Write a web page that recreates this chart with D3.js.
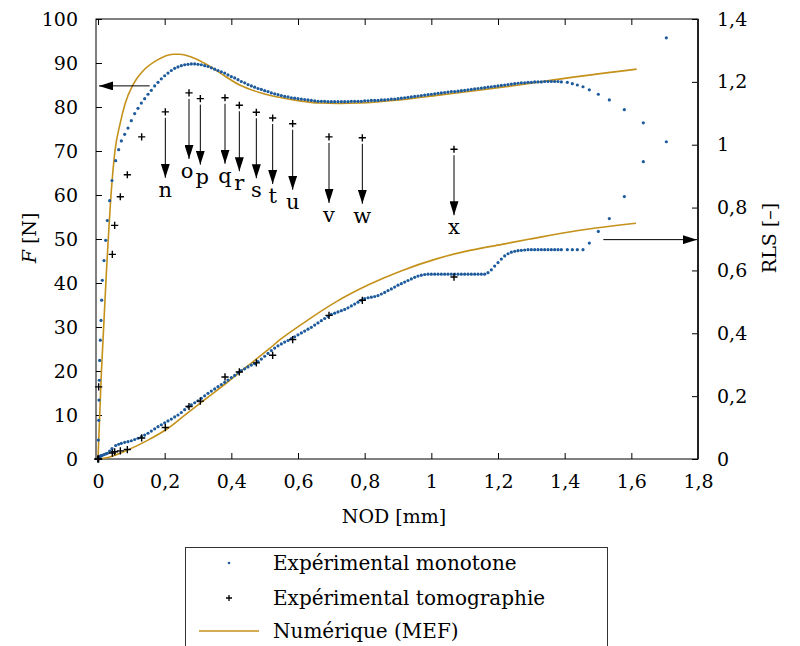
<!DOCTYPE html>
<html><head><meta charset="utf-8">
<script src="https://cdn.jsdelivr.net/npm/d3@7"></script>
<style>body{margin:0;background:#fff}</style>
</head><body>
<script>
// ---------------- DATA ----------------
const xTicks = [0,0.2,0.4,0.6,0.8,1,1.2,1.4,1.6,1.8];
const xTickLabels = ['0','0,2','0,4','0,6','0,8','1','1,2','1,4','1,6','1,8'];
const fTicks = [0,10,20,30,40,50,60,70,80,90,100];
const fTickLabels = ['0','10','20','30','40','50','60','70','80','90','100'];
const rlsTicks = [0,0.2,0.4,0.6,0.8,1,1.2,1.4];
const rlsTickLabels = ['0','0,2','0,4','0,6','0,8','1','1,2','1,4'];

// Expérimental monotone : NOD [mm], F [N], RLS [-]
const monoNOD = [0,0.001,0.002,0.003,0.004,0.005,0.007,0.009,0.011,0.013,0.018,0.023,0.028,0.035,0.042,0.053,0.062,0.070,
 0.08,0.09,
 0.10,0.11,0.12,0.13,0.14,0.15,0.16,0.17,0.18,0.19,
 0.20,0.21,0.22,0.23,0.24,0.25,0.26,0.27,0.28,0.29,
 0.30,0.31,0.32,0.33,0.34,0.35,0.36,0.37,0.38,0.39,
 0.40,0.41,0.42,0.43,0.44,0.45,0.46,0.47,0.48,0.49,
 0.50,0.51,0.52,0.53,0.54,0.55,0.56,0.57,0.58,0.59,
 0.60,0.61,0.62,0.63,0.64,0.65,0.66,0.67,0.68,0.69,
 0.70,0.71,0.72,0.73,0.74,0.75,0.76,0.77,0.78,0.79,
 0.80,0.81,0.82,0.83,0.84,0.85,0.86,0.87,0.88,0.89,
 0.90,0.91,0.92,0.93,0.94,0.95,0.96,0.97,0.98,0.99,
 1.00,1.01,1.02,1.03,1.04,1.05,1.06,1.07,1.08,1.09,
 1.10,1.11,1.12,1.13,1.14,1.15,1.16,1.17,1.18,1.19,
 1.20,1.21,1.22,1.23,1.24,1.25,1.26,1.27,1.28,1.29,
 1.30,1.31,1.32,1.33,1.34,1.35,1.36,1.37,1.38,1.39,
 1.408,1.423,1.438,1.455,1.474,1.501,1.534,1.579,1.636,1.705];
const monoF = [0,4.3,8.8,13.4,17.9,22.4,27.0,31.5,36.1,40.6,45.1,49.7,54.2,58.7,63.3,67.8,70.3,72.3,
 73.8,75.2,
 76.9,78.5,79.7,80.9,81.9,82.9,83.8,84.8,85.6,86.4,
 87.1,87.7,88.3,88.8,89.1,89.4,89.6,89.7,89.8,89.8,
 89.7,89.6,89.4,89.2,88.9,88.6,88.3,88.0,87.7,87.3,
 86.9,86.6,86.2,85.8,85.5,85.1,84.8,84.5,84.2,84.0,
 83.7,83.5,83.2,83.0,82.8,82.6,82.4,82.3,82.1,82.0,
 81.9,81.8,81.7,81.6,81.5,81.4,81.3,81.3,81.3,81.2,
 81.2,81.2,81.2,81.2,81.2,81.2,81.3,81.3,81.3,81.3,
 81.4,81.4,81.5,81.5,81.5,81.6,81.6,81.7,81.8,81.8,
 81.9,82.0,82.1,82.2,82.3,82.4,82.5,82.6,82.7,82.8,
 82.9,83.0,83.1,83.2,83.3,83.4,83.5,83.5,83.6,83.7,
 83.8,83.9,84.0,84.1,84.2,84.3,84.4,84.5,84.6,84.7,
 84.8,84.9,85.0,85.1,85.2,85.3,85.4,85.5,85.5,85.6,
 85.6,85.7,85.7,85.7,85.8,85.8,85.8,85.8,85.8,85.7,
 85.6,85.3,85.0,84.6,83.9,82.9,81.6,79.4,76.4,72.1];
const monoRLS = [0,0.002,0.004,0.005,0.006,0.007,0.009,0.010,0.011,0.012,0.014,0.016,0.018,0.025,0.033,0.043,0.047,0.050,
 0.053,0.055,
 0.058,0.062,0.066,0.071,0.076,0.082,0.089,0.096,0.103,0.109,
 0.115,0.121,0.127,0.134,0.140,0.148,0.157,0.166,0.172,0.179,
 0.185,0.193,0.201,0.209,0.216,0.223,0.230,0.237,0.244,0.251,
 0.259,0.266,0.274,0.281,0.287,0.293,0.299,0.303,0.310,0.318,
 0.327,0.336,0.345,0.353,0.360,0.366,0.372,0.377,0.383,0.389,
 0.395,0.401,0.407,0.413,0.419,0.426,0.433,0.440,0.447,0.454,
 0.460,0.464,0.468,0.472,0.476,0.481,0.487,0.493,0.499,0.505,
 0.510,0.513,0.515,0.517,0.520,0.525,0.530,0.536,0.541,0.547,
 0.553,0.558,0.563,0.568,0.573,0.578,0.582,0.585,0.587,0.588,
 0.588,0.588,0.588,0.588,0.588,0.588,0.588,0.588,0.588,0.588,
 0.588,0.588,0.588,0.588,0.588,0.588,0.588,0.593,0.602,0.614,
 0.625,0.636,0.646,0.653,0.658,0.661,0.663,0.664,0.665,0.666,
 0.666,0.666,0.666,0.666,0.666,0.666,0.666,0.666,0.666,0.666,
 0.666,0.666,0.666,0.666,0.687,0.724,0.765,0.835,0.946,1.34];

// Expérimental tomographie
const tomoNOD = [0,0.002,0.043,0.050,0.067,0.088,0.131,0.202,0.273,0.307,0.381,0.424,0.475,0.524,0.584,0.693,0.793,1.068];
const tomoF   = [0,16.4,46.5,53.1,59.6,64.6,73.2,78.9,83.2,81.9,82.1,80.4,78.8,77.5,76.2,73.2,73.0,70.4];
const tomoRLS = [0,0,0.019,0.023,0.026,0.030,0.067,0.100,0.167,0.184,0.261,0.277,0.306,0.330,0.380,0.457,0.505,0.579];
const tomoLabels = ['','','','','','','','n','o','p','q','r','s','t','u','v','w','x'];

// Numérique (MEF)
const mefNOD_F = [0,0.010,0.025,0.040,0.051,0.066,0.081,0.106,0.135,0.176,0.225,0.245,0.285,0.325,0.365,0.425,0.484,0.544,0.604,0.664,0.724,0.783,0.903,1.023,1.142,1.262,1.362,1.616];
const mefF     = [0,19.4,42.1,61.0,70.1,76.1,80.7,85.2,88.2,90.6,92.0,92.0,91.2,89.7,87.8,85.0,83.3,82.2,81.4,80.9,80.8,80.9,81.6,82.7,83.8,85.0,86.1,88.6];
const mefNOD_R = [0,0.030,0.090,0.150,0.209,0.269,0.329,0.389,0.445,0.514,0.544,0.614,0.714,0.813,0.913,1.013,1.112,1.212,1.292,1.441,1.614];
const mefRLS   = [0,0.005,0.029,0.060,0.097,0.147,0.196,0.245,0.293,0.351,0.378,0.431,0.500,0.555,0.600,0.636,0.663,0.683,0.699,0.727,0.750];

// axis-pointing arrows (data coordinates)
const arrowF = {nod0:0.155, nod1:0, value:84.8};
const arrowR = {nod0:1.516, nod1:1.8, value:0.698};

const seriesNames = ['Expérimental monotone','Expérimental tomographie','Numérique (MEF)'];

// ---------------- DRAW ----------------
const FONT = '"DejaVu Serif", serif';
const BLUE = '#1d5b9c', GOLD = '#c4911a';
const svg = d3.select('body').append('svg').attr('width',800).attr('height',646);

const x  = d3.scaleLinear().domain([-0.006,1.8]).range([96,698]);
const yF = d3.scaleLinear().domain([0,100]).range([459,19]);
const yR = d3.scaleLinear().domain([0,1.4]).range([459,19]);

svg.append('defs').append('marker').attr('id','ah')
  .attr('viewBox','0 0 14 9').attr('refX',14).attr('refY',4.5)
  .attr('markerWidth',14).attr('markerHeight',9).attr('markerUnits','userSpaceOnUse')
  .attr('orient','auto')
  .append('path').attr('d','M0,0L14,4.5L0,9Z').attr('fill','#000');

function styleAxis(g){
  g.attr('font-family',FONT).attr('font-size',19);
  g.select('.domain').remove();
  g.selectAll('.tick line').attr('stroke','#000');
  g.selectAll('.tick text').attr('fill','#000');
}
svg.append('g').attr('transform','translate(0,459)')
  .call(d3.axisBottom(x).tickValues(xTicks).tickFormat((d,i)=>xTickLabels[i]).tickSize(-6).tickSizeOuter(0).tickPadding(16))
  .call(styleAxis);
svg.append('g').attr('transform','translate(0,19)')
  .call(d3.axisTop(x).tickValues(xTicks).tickFormat('').tickSize(-6).tickSizeOuter(0))
  .call(styleAxis);
svg.append('g').attr('transform','translate(96,0)')
  .call(d3.axisLeft(yF).tickValues(fTicks).tickFormat((d,i)=>fTickLabels[i]).tickSize(-6).tickSizeOuter(0).tickPadding(18))
  .call(styleAxis);
svg.append('g').attr('transform','translate(698,0)')
  .call(d3.axisRight(yR).tickValues(rlsTicks).tickFormat((d,i)=>rlsTickLabels[i]).tickSize(-6).tickSizeOuter(0).tickPadding(19))
  .call(styleAxis);

// frame
svg.append('rect').attr('x',96).attr('y',19).attr('width',602).attr('height',440)
  .attr('fill','none').attr('stroke','#000').attr('stroke-width',1);
svg.append('line').attr('x1',698).attr('x2',698).attr('y1',19).attr('y2',459)
  .attr('stroke','#222').attr('stroke-width',2);

// axis labels
const fl = svg.append('text').attr('font-family',FONT).attr('font-size',19)
  .attr('text-anchor','middle').attr('transform','translate(36,238) rotate(-90)');
fl.append('tspan').attr('font-style','italic').text('F');
fl.append('tspan').text(' [N]');
svg.append('text').attr('font-family',FONT).attr('font-size',19)
  .attr('text-anchor','middle').attr('transform','translate(776,238) rotate(-90)').text('RLS [–]');
svg.append('text').attr('font-family',FONT).attr('font-size',19)
  .attr('text-anchor','middle').attr('x',394).attr('y',523).text('NOD [mm]');

// MEF lines
const lineF = d3.line().x((d,i)=>x(mefNOD_F[i])).y(d=>yF(d)).curve(d3.curveMonotoneX);
const lineR = d3.line().x((d,i)=>x(mefNOD_R[i])).y(d=>yR(d)).curve(d3.curveMonotoneX);
svg.append('path').attr('d',lineF(mefF)).attr('fill','none').attr('stroke',GOLD).attr('stroke-width',1.6);
svg.append('path').attr('d',lineR(mefRLS)).attr('fill','none').attr('stroke',GOLD).attr('stroke-width',1.6);

// monotone dots
const mono = monoNOD.map((n,i)=>({n, f:monoF[i], r:monoRLS[i]}));
svg.append('g').selectAll('circle.f').data(mono).join('circle')
  .attr('cx',d=>x(d.n)).attr('cy',d=>yF(d.f)).attr('r',1.6).attr('fill',BLUE);
svg.append('g').selectAll('circle.r').data(mono).join('circle')
  .attr('cx',d=>x(d.n)).attr('cy',d=>yR(d.r)).attr('r',1.6).attr('fill',BLUE);

// tomography crosses
const tomo = tomoNOD.map((n,i)=>({n, f:tomoF[i], r:tomoRLS[i], lab:tomoLabels[i]}));
const cross = 'M-3.6,0H3.6M0,-3.6V3.6';
svg.append('g').selectAll('path').data(tomo).join('path')
  .attr('d',cross).attr('transform',d=>`translate(${x(d.n)},${yF(d.f)})`)
  .attr('stroke','#000').attr('stroke-width',1.4).attr('fill','none');
svg.append('g').selectAll('path').data(tomo).join('path')
  .attr('d',cross).attr('transform',d=>`translate(${x(d.n)},${yR(d.r)})`)
  .attr('stroke','#000').attr('stroke-width',1.4).attr('fill','none');

// labelled arrows
const lab = tomo.filter(d=>d.lab);
const labNudge = {o:-1.8, p:1.8};
svg.append('g').selectAll('line').data(lab).join('line')
  .attr('x1',d=>x(d.n)).attr('x2',d=>x(d.n))
  .attr('y1',d=>yF(d.f)+6).attr('y2',d=>yF(d.f)+66)
  .attr('stroke','#000').attr('stroke-width',1).attr('marker-end','url(#ah)');
svg.append('g').selectAll('text').data(lab).join('text')
  .attr('x',d=>x(d.n)+(labNudge[d.lab]||0)).attr('y',d=>yF(d.f)+85)
  .attr('text-anchor','middle').attr('font-family',FONT).attr('font-size',21)
  .text(d=>d.lab);

// axis-pointing arrows
svg.append('line').attr('x1',x(arrowF.nod0)).attr('x2',x(arrowF.nod1)+1)
  .attr('y1',yF(arrowF.value)).attr('y2',yF(arrowF.value))
  .attr('stroke','#000').attr('stroke-width',1).attr('marker-end','url(#ah)');
svg.append('line').attr('x1',x(arrowR.nod0)).attr('x2',x(arrowR.nod1)-1)
  .attr('y1',yR(arrowR.value)).attr('y2',yR(arrowR.value))
  .attr('stroke','#000').attr('stroke-width',1).attr('marker-end','url(#ah)');

// legend
const lg = svg.append('g');
lg.append('rect').attr('x',185.5).attr('y',547.5).attr('width',422).attr('height',120)
  .attr('fill','#fff').attr('stroke','#333').attr('stroke-width',1);
const rows = [563, 598, 631];
lg.append('circle').attr('cx',229).attr('cy',rows[0]).attr('r',1.3).attr('fill',BLUE);
lg.append('path').attr('d','M-3,0H3M0,-3V3').attr('transform',`translate(229,${rows[1]})`)
  .attr('stroke','#000').attr('stroke-width',1.3);
lg.append('line').attr('x1',199).attr('x2',259).attr('y1',rows[2]).attr('y2',rows[2])
  .attr('stroke',GOLD).attr('stroke-width',1.6);
lg.selectAll('text').data(seriesNames).join('text')
  .attr('x',273).attr('y',(d,i)=>rows[i]+6.5)
  .attr('font-family',FONT).attr('font-size',20).text(d=>d);
</script>
</body></html>
